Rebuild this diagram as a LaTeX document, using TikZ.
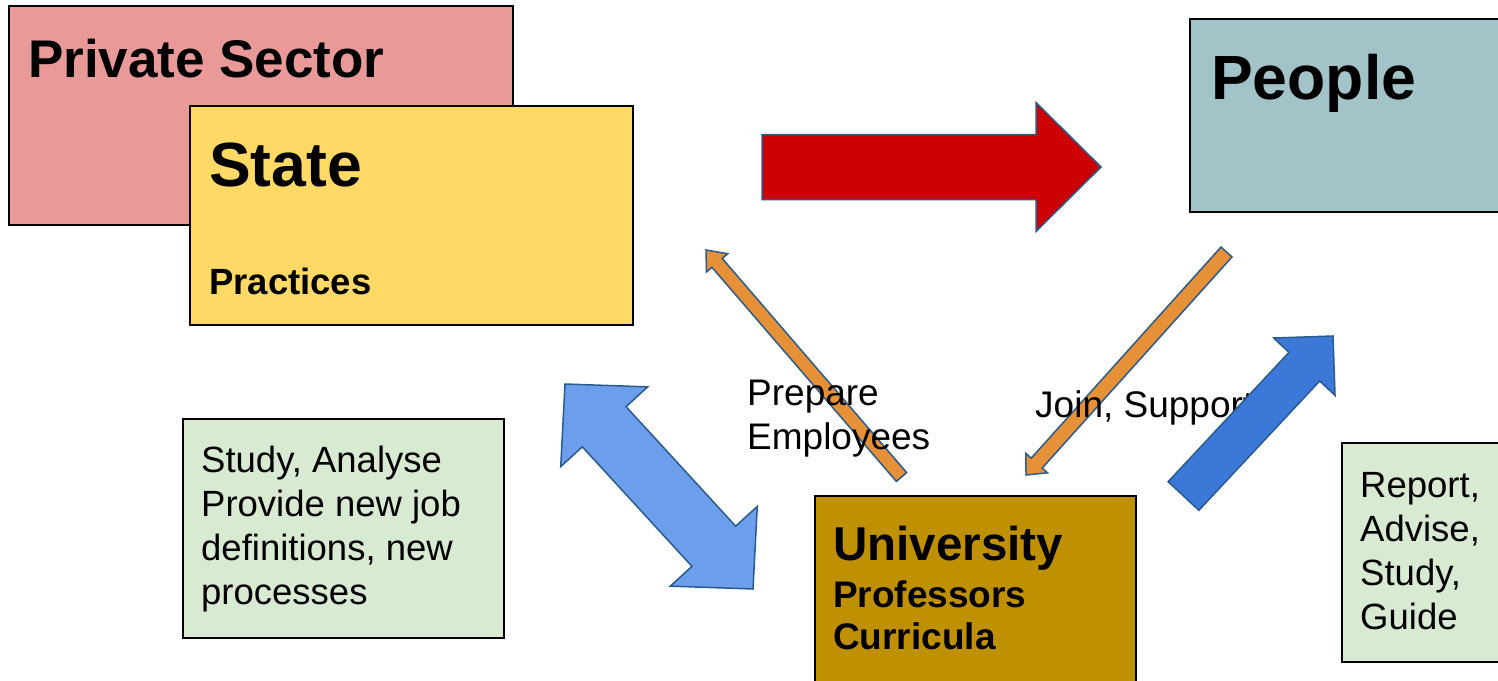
\documentclass[tikz,border=0pt]{standalone}
\usepackage{fontspec}
\setmainfont{Liberation Sans}
\usetikzlibrary{calc}
\definecolor{privc}{HTML}{EA9999}
\definecolor{statec}{HTML}{FFD966}
\definecolor{peoplec}{HTML}{A2C4C9}
\definecolor{univc}{HTML}{BF9000}
\definecolor{notec}{HTML}{D9EAD3}
\definecolor{redc}{HTML}{CC0000}
\definecolor{orangec}{HTML}{E69138}
\definecolor{bluec}{HTML}{3C78D8}
\definecolor{lbluec}{HTML}{6D9EEB}
\definecolor{edgec}{HTML}{2B5B8C}
% single block arrow: fill, tail, tip, shaft half width, head half width, head length
\newcommand\blockarrow[6]{%
  \coordinate (ba-h) at ($(#3)!#6!(#2)$);
  \draw[arrowline, fill=#1] ($(#2)!#4!90:(#3)$) -- ($(ba-h)!#4!90:(#3)$) -- ($(ba-h)!#5!90:(#3)$) -- (#3)
     -- ($(ba-h)!#5!-90:(#3)$) -- ($(ba-h)!#4!-90:(#3)$) -- ($(#2)!#4!-90:(#3)$) -- cycle;}
% double block arrow: fill, end A, end B, shaft half width, head half width, head length
\newcommand\dblarrow[6]{%
  \coordinate (da-a) at ($(#2)!#6!(#3)$);
  \coordinate (da-b) at ($(#3)!#6!(#2)$);
  \draw[arrowline, fill=#1] (#2) -- ($(da-a)!#5!90:(#3)$) -- ($(da-a)!#4!90:(#3)$)
     -- ($(da-b)!#4!-90:(#2)$) -- ($(da-b)!#5!-90:(#2)$) -- (#3)
     -- ($(da-b)!#5!90:(#2)$) -- ($(da-b)!#4!90:(#2)$)
     -- ($(da-a)!#4!-90:(#3)$) -- ($(da-a)!#5!-90:(#3)$) -- cycle;}
\begin{document}
\begin{tikzpicture}[x=1pt,y=-1pt,
  box/.style={draw=black, line width=2pt, anchor=north west, inner sep=0pt},
  arrowline/.style={draw=edgec, line width=1.5pt, line join=miter},
  lbl/.style={anchor=base west, inner sep=0pt},
  para/.style={anchor=north west, inner sep=0pt, align=left}]
\clip (0,0) rectangle (1498,680);
\fill[white] (0,0) rectangle (1498,680);
% boxes
\node[box, fill=privc, minimum width=504pt, minimum height=219pt] (priv) at (8,5) {};
\node[box, fill=statec, minimum width=443pt, minimum height=219pt] (state) at (189,105) {};
\node[box, fill=peoplec, minimum width=330pt, minimum height=193pt] (people) at (1189,18) {};
\node[box, fill=univc, minimum width=321pt, minimum height=220pt] (univ) at (814,495) {};
\node[box, fill=notec, minimum width=321pt, minimum height=219pt] (study) at (182,418) {};
\node[box, fill=notec, minimum width=200pt, minimum height=219pt] (report) at (1341,442) {};
% arrow end points
\coordinate (redT) at (762,167);
\coordinate (redP) at (1101,167);
\coordinate (prepT) at (901.5,477);
\coordinate (prepP) at (706,250);
\coordinate (joinT) at (1226.5,252);
\coordinate (joinP) at (1026,475);
\coordinate (blueT) at (1183.5,496);
\coordinate (blueP) at (1333,336);
\coordinate (dblA) at (565,384);
\coordinate (dblB) at (753,589);
% arrows below the texts
\blockarrow{redc}{redT}{redP}{32.5pt}{64.5pt}{65pt}
\dblarrow{lbluec}{dblA}{dblB}{29.7pt}{59pt}{58pt}
\blockarrow{orangec}{prepT}{prepP}{6.8pt}{14pt}{17pt}
\blockarrow{orangec}{joinT}{joinP}{7.4pt}{14.5pt}{16pt}
% texts
\node[lbl, font=\fontsize{53}{60}\selectfont\bfseries] (privt) at (28,77) {Private Sector};
\node[lbl, font=\fontsize{62.5}{70}\selectfont\bfseries] (statet) at (209,186) {State};
\node[lbl, font=\fontsize{36.5}{44}\selectfont\bfseries] (pract) at (209,294) {Practices};
\node[lbl, font=\fontsize{62.5}{70}\selectfont\bfseries] (peoplet) at (1211,99) {People};
\node[lbl, font=\fontsize{47.5}{54}\selectfont\bfseries] (univt) at (833,560) {University};
\node[para, font=\fontsize{37}{42}\selectfont\bfseries] (proft) at (833,577) {\rule{0pt}{30pt}Professors\\Curricula};
\node[para, font=\fontsize{36.5}{44}\selectfont] (studyt) at (201,442) {\rule{0pt}{30pt}Study, Analyse\\Provide new job\\definitions, new\\processes};
\node[para, font=\fontsize{36.5}{44}\selectfont] (reportt) at (1360,467) {\rule{0pt}{30pt}Report,\\Advise,\\Study,\\Guide};
\node[para, font=\fontsize{37}{44.5}\selectfont] (prept) at (747,375) {\rule{0pt}{30pt}Prepare\\Employees};
\node[lbl, font=\fontsize{37}{44}\selectfont] (joint) at (1035,417) {Join, Support};
% arrow above the texts
\blockarrow{bluec}{blueT}{blueP}{21pt}{42pt}{42pt}
\end{tikzpicture}
\end{document}
